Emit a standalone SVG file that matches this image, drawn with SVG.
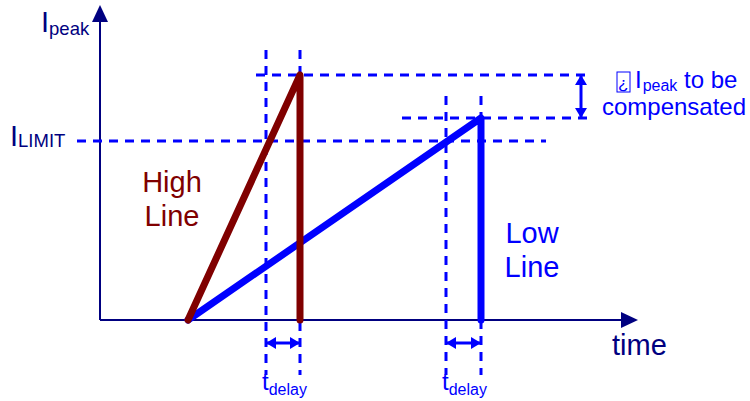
<svg xmlns="http://www.w3.org/2000/svg" width="750" height="401" viewBox="0 0 750 401">
<style>
text{font-family:"Liberation Sans",Arial,sans-serif}
.ax{stroke:#000080;stroke-width:2;fill:none}
.dash{stroke:#0000ff;stroke-width:3;stroke-dasharray:9,7;fill:none}
.navy{fill:#000080}
.blue{fill:#0000ff}
.red{fill:#800000}
.dim{stroke:#0000ff;stroke-width:3;fill:none}
</style>
<defs>
<marker id="ah" viewBox="0 0 10 12" refX="9" refY="6" markerWidth="3.4" markerHeight="4" orient="auto-start-reverse" markerUnits="strokeWidth">
<path d="M0,0 L10,6 L0,12 Z" fill="#0000ff"/>
</marker>
</defs>
<rect width="750" height="401" fill="#fff"/>
<g id="axes">
<line class="ax" x1="100" y1="320" x2="100" y2="20"/>
<path class="navy" d="M100,5 L92,22 L108,22 Z"/>
<line class="ax" x1="100" y1="320" x2="622" y2="320"/>
<path class="navy" d="M638,320 L621,312 L621,328 Z"/>
</g>
<g id="connectors">
<line class="dash" x1="266" y1="50" x2="266" y2="375"/>
<line class="dash" x1="300" y1="50" x2="300" y2="375"/>
<line class="dash" x1="446" y1="96" x2="446" y2="375"/>
<line class="dash" x1="481" y1="96" x2="481" y2="375"/>
<line class="dash" x1="256" y1="75" x2="592" y2="75"/>
<line class="dash" x1="402" y1="118" x2="592" y2="118"/>
<line class="dash" x1="77" y1="141" x2="546" y2="141"/>
<line class="dim" x1="581" y1="76" x2="581" y2="117" marker-start="url(#ah)" marker-end="url(#ah)"/>
<line class="dim" x1="267" y1="343" x2="299" y2="343" marker-start="url(#ah)" marker-end="url(#ah)"/>
<line class="dim" x1="447" y1="343" x2="480" y2="343" marker-start="url(#ah)" marker-end="url(#ah)"/>
</g>
<g id="low-line">
<polyline points="188,320 481,118 481,320" fill="none" stroke="#0000ff" stroke-width="7" stroke-linejoin="round" stroke-linecap="round"/>
</g>
<g id="high-line">
<polyline points="188,320 300,75 300,320" fill="none" stroke="#800000" stroke-width="7" stroke-linejoin="round" stroke-linecap="round"/>
</g>
<g id="labels">
<text x="41" y="32" class="navy" font-size="29">I<tspan font-size="18.5" dy="3">peak</tspan></text>
<text x="10" y="146" class="navy" font-size="29">I<tspan font-size="18.5" dy="1">LIMIT</tspan></text>
<text x="172" y="192" class="red" font-size="29" text-anchor="middle">High</text>
<text x="172" y="226" class="red" font-size="29" text-anchor="middle">Line</text>
<text x="532" y="243" class="blue" font-size="29" text-anchor="middle">Low</text>
<text x="532" y="277" class="blue" font-size="29" text-anchor="middle">Line</text>
<text x="612" y="355" class="navy" font-size="29">time</text>
<text x="262" y="390" class="blue" font-size="24">t<tspan font-size="16" dy="5">delay</tspan></text>
<text x="442" y="390" class="blue" font-size="24">t<tspan font-size="16" dy="5">delay</tspan></text>
<rect x="617" y="72" width="13" height="20" fill="none" stroke="#0000ff" stroke-width="1"/>
<text x="618" y="89" class="blue" font-size="17">¿</text>
<text x="635" y="88" class="blue" font-size="24">I<tspan font-size="16" dx="1" dy="3">peak</tspan><tspan dy="-3"> to be</tspan></text>
<text x="674" y="115" class="blue" font-size="24" text-anchor="middle">compensated</text>
</g>
</svg>
